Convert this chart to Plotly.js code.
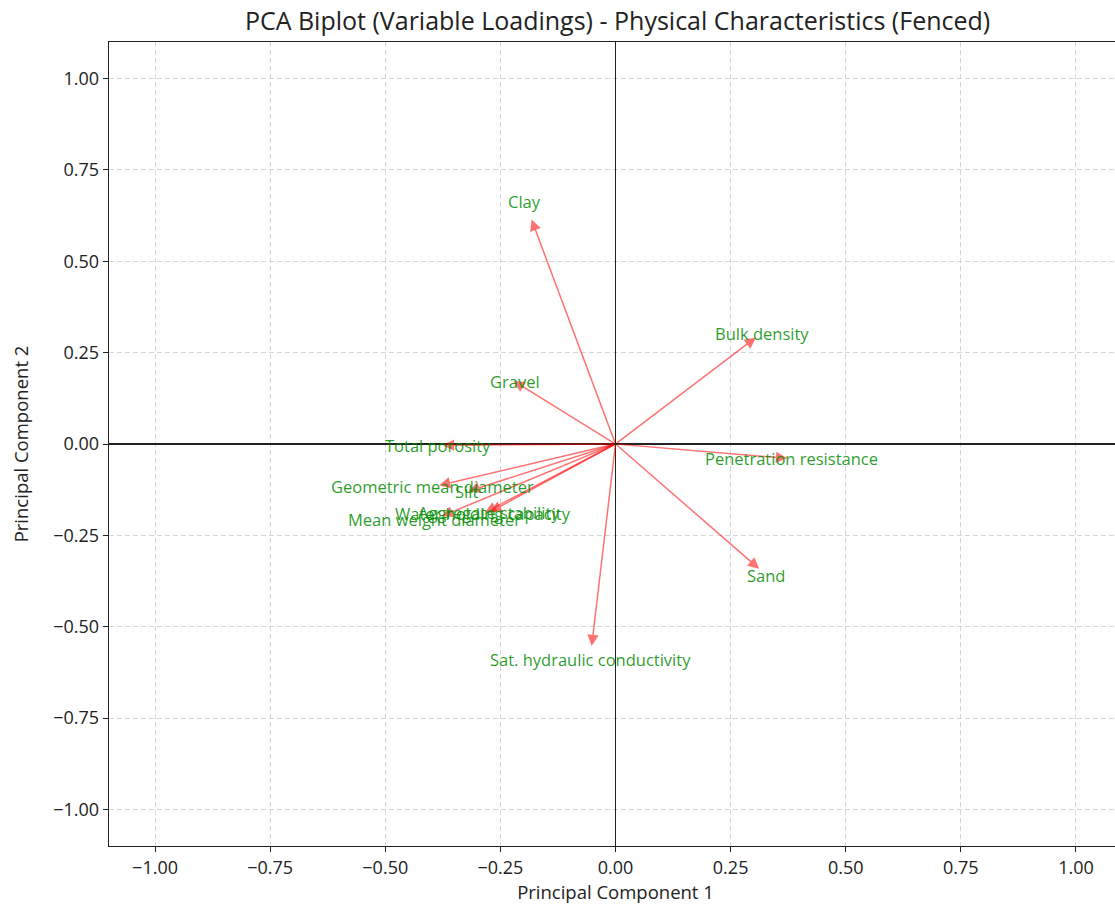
<!DOCTYPE html>
<html>
<head>
<meta charset="utf-8">
<script src="https://cdn.plot.ly/plotly-3.0.1.min.js"></script>
<style>
html,body{margin:0;padding:0;overflow:hidden;background:#fff;}
#chart{width:1140px;height:905px;}
</style>
</head>
<body>
<div id="chart"></div>
<script>
// Variable names and PCA loadings (PC1, PC2)
const variables = [
  "Clay", "Gravel", "Bulk density", "Penetration resistance", "Sand",
  "Sat. hydraulic conductivity", "Total porosity", "Geometric mean diameter",
  "Silt", "Mean weight diameter", "Water holding capacity", "Aggregate stability"
];
const pc1 = [-0.171, -0.190, 0.276, 0.333, 0.285, -0.048, -0.335, -0.345, -0.282, -0.342, -0.250, -0.239];
const pc2 = [0.576, 0.148, 0.264, -0.035, -0.312, -0.513, -0.003, -0.102, -0.114, -0.179, -0.165, -0.163];

const xTicks = [-1.0, -0.75, -0.5, -0.25, 0, 0.25, 0.5, 0.75, 1.0];
const yTicks = [-1.0, -0.75, -0.5, -0.25, 0, 0.25, 0.5, 0.75, 1.0];

const headLen = 0.04;   // arrow head extends beyond the loading point
const labelScale = 1.15; // label placed at 1.15 x loading

const FONT = '"Open Sans", Roboto, sans-serif';

const annotations = [];
for (let i = 0; i < variables.length; i++) {
  const lx = pc1[i], ly = pc2[i];
  const mag = Math.sqrt(lx*lx + ly*ly);
  const tx = lx + headLen * lx / mag;
  const ty = ly + headLen * ly / mag;
  annotations.push({
    x: tx, y: ty, ax: 0, ay: 0,
    xref: 'x', yref: 'y', axref: 'x', ayref: 'y',
    text: '', showarrow: true,
    arrowhead: 2, arrowsize: 1.5, arrowwidth: 1.5,
    arrowcolor: 'rgba(255,0,0,0.55)', standoff: 0
  });
}
for (let i = 0; i < variables.length; i++) {
  annotations.push({
    x: pc1[i] * labelScale, y: pc2[i] * labelScale,
    xref: 'x', yref: 'y', text: variables[i], showarrow: false,
    xanchor: 'center', yanchor: 'middle',
    font: {family: FONT, size: 16.5, color: 'rgba(0,140,0,0.85)'}
  });
}

const fmt = v => (v < 0 ? '\u2212' : '') + Math.abs(v).toFixed(2);

const axisCommon = {
  range: [-1.1, 1.1],
  showgrid: true,
  gridcolor: '#d6d6d6',
  griddash: '5px,3px',
  gridwidth: 1,
  zeroline: true,
  zerolinecolor: '#222',
  zerolinewidth: 1.8,
  showline: true,
  linecolor: '#222',
  linewidth: 1.3,
  mirror: true,
  ticks: 'outside',
  ticklen: 5,
  tickcolor: '#222',
  tickfont: {family: FONT, size: 18, color: '#222'},
  fixedrange: true
};

const layout = {
  width: 1140,
  height: 905,
  margin: {l: 109, r: 18, t: 42, b: 59},
  paper_bgcolor: '#fff',
  plot_bgcolor: '#fff',
  showlegend: false,
  title: {
    text: 'PCA Biplot (Variable Loadings) - Physical Characteristics (Fenced)',
    x: 0.5417, xanchor: 'center', y: 0.977, yanchor: 'middle',
    font: {family: FONT, size: 25, color: '#222'}
  },
  xaxis: Object.assign({}, axisCommon, {
    tickvals: xTicks, ticktext: xTicks.map(fmt),
    title: {text: 'Principal Component 1', standoff: 6,
      font: {family: FONT, size: 18.5, color: '#222'}}
  }),
  yaxis: Object.assign({}, axisCommon, {
    tickvals: yTicks, ticktext: yTicks.map(fmt),
    title: {text: 'Principal Component 2', standoff: 19,
      font: {family: FONT, size: 18.5, color: '#222'}}
  }),
  annotations: annotations
};

Plotly.newPlot('chart', [{x: [], y: [], type: 'scatter', mode: 'markers', hoverinfo: 'skip'}], layout, {displayModeBar: false, staticPlot: true});
</script>
</body>
</html>
